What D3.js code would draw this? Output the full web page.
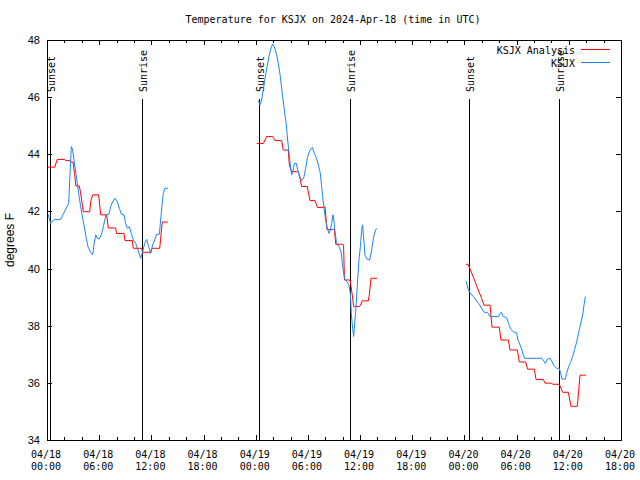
<!DOCTYPE html>
<html><head><meta charset="utf-8">
<script src="https://cdn.jsdelivr.net/npm/d3@7"></script>
<style>body{margin:0;background:#fff}svg{display:block}</style>
</head><body>
<svg id="c" width="640" height="480"></svg>
<script>
// Hours since 2024-04-18 00:00 UTC; null separates gaps
const anaHours = [0.11,0.89,1.18,2.04,2.18,2.64,2.76,2.99,3.16,3.33,3.71,3.85,4.17,4.91,5.02,5.25,5.94,6.17,6.86,7.05,7.9,7.99,8.85,8.97,9.81,9.92,10.89,10.98,11.96,12.07,12.96,13.11,13.26,13.88,
  null,
  24.11,24.88,25.26,25.95,26.22,26.98,27.17,27.75,27.86,28.13,28.9,29.09,29.28,29.93,30.24,30.82,31.09,31.77,31.97,32.19,32.93,33.05,33.2,33.96,34.1,34.2,34.84,35.1,35.26,35.95,36.1,36.26,36.95,37.06,37.25,37.94,
  null,
  48.18,48.41,48.83,49.4,49.98,50.25,50.94,51.17,52.01,52.2,53.05,53.24,54.08,54.31,55.04,55.27,56.04,56.23,57.07,57.26,58.03,58.14,58.91,59.29,59.94,60.25,60.98,61.13,61.29,61.98];
const anaTemps = [43.55,43.55,43.82,43.82,43.78,43.78,43.73,43.73,43.33,42.89,42.89,42.69,41.99,41.99,42.34,42.58,42.58,41.88,41.88,41.42,41.42,41.23,41.23,40.98,40.98,40.71,40.71,40.57,40.57,40.71,40.71,41.18,41.63,41.63,
  null,
  44.38,44.38,44.62,44.62,44.48,44.48,44.15,44.15,43.63,43.39,43.39,43.16,42.87,42.87,42.38,42.38,42.14,42.14,42.17,41.37,41.37,41.37,40.85,40.85,40.83,39.6,39.6,39.08,38.67,38.67,38.76,38.87,38.87,39.08,39.66,39.66,
  null,
  40.15,40.15,39.85,39.4,38.95,38.72,38.72,37.95,37.95,37.5,37.5,37.15,37.15,36.73,36.73,36.48,36.48,36.12,36.12,35.99,35.99,35.95,35.95,35.67,35.67,35.18,35.18,35.72,36.27,36.27];

const obsHours = [0.115,0.42,0.575,0.88,1.57,2.49,2.8,2.95,3.1,3.33,3.49,3.72,3.87,4.1,4.25,4.48,4.71,5.02,5.25,5.4,5.6,5.79,6.02,6.25,6.48,6.78,7.13,7.32,7.55,7.82,8.09,8.32,8.55,8.85,9.04,9.24,9.47,9.7,9.93,10.2,10.46,10.77,11.0,11.23,11.46,11.69,11.92,12.15,12.38,12.61,12.92,13.07,13.22,13.38,13.53,13.91,
  null,
  24.3,24.49,24.68,24.87,25.07,25.3,25.52,25.76,25.95,26.14,26.37,26.6,26.83,27.05,27.29,27.52,27.67,27.83,27.98,28.13,28.28,28.44,28.67,28.82,29.05,29.28,29.51,29.74,29.97,30.24,30.51,30.74,31.0,31.2,31.43,31.58,31.7,31.85,32.04,32.23,32.43,32.58,32.73,32.89,33.0,33.12,33.27,33.42,33.57,33.81,33.96,34.11,34.27,34.5,34.72,34.88,34.99,35.14,35.26,35.33,35.41,35.56,35.72,35.87,36.03,36.18,36.29,36.41,36.56,36.79,37.1,37.33,37.56,37.79,37.94,
  null,
  48.18,48.33,48.45,48.71,49.02,49.33,49.63,49.94,50.25,50.63,50.94,51.9,52.09,52.24,52.47,52.85,53.08,53.31,53.62,54.0,54.16,54.39,54.62,54.77,54.92,56.88,57.15,57.3,57.53,57.84,58.07,58.3,58.61,58.91,59.07,59.22,59.6,59.75,59.98,60.21,60.44,60.67,60.91,61.14,61.37,61.6,61.75,61.9];
const obsTemps = [41.91,41.58,41.65,41.72,41.72,42.28,44.27,44.15,43.8,43.33,42.98,42.46,42.17,41.76,41.53,41.12,40.77,40.56,40.48,40.83,41.18,41.06,41.04,41.18,41.47,41.88,41.91,42.17,42.34,42.46,42.34,42.11,41.91,41.88,41.58,41.41,41.47,41.23,41.0,40.88,40.65,40.36,40.59,40.88,41.02,40.77,40.53,40.83,41.0,41.2,41.2,41.7,42.22,42.63,42.81,42.81,
  null,
  45.88,45.73,45.9,46.25,46.66,47.07,47.42,47.71,47.86,47.77,47.53,47.18,46.72,46.13,45.55,45.03,44.5,44.03,43.63,43.28,43.39,43.68,43.68,43.45,43.22,43.1,43.16,43.51,43.92,44.15,44.24,44.03,43.86,43.63,43.33,42.87,42.52,42.11,41.7,41.41,41.23,41.35,41.58,41.88,41.64,41.29,40.94,40.83,40.77,40.59,40.18,39.83,39.6,39.54,39.43,39.13,38.43,37.91,37.62,37.85,38.2,38.78,39.6,40.3,40.77,41.35,41.53,41.06,40.48,40.33,40.3,40.65,41.12,41.35,41.41,
  null,
  39.57,39.4,39.25,39.13,39.02,38.9,38.78,38.63,38.47,38.47,38.32,38.32,38.43,38.47,38.32,38.28,38.08,37.88,37.79,37.75,37.5,37.33,37.15,36.98,36.86,36.86,36.76,36.68,36.83,36.86,36.74,36.6,36.51,36.51,36.33,36.13,36.13,36.33,36.57,36.72,36.92,37.18,37.44,37.77,38.08,38.38,38.73,39.02];

const eventHours = [0.35,10.89,24.41,34.87,48.47,58.91];
const eventLabels = ["Sunset","Sunrise","Sunset","Sunrise","Sunset","Sunrise"];
const yTicks = [34,36,38,40,42,44,46,48];
const seriesNames = ["KSJX Analysis","KSJX"];
const seriesColors = ["#ff0000","#1a86f0"];
const titleText = "Temperature for KSJX on 2024-Apr-18 (time in UTC)";
const yLabel = "degrees F";

const t0 = Date.UTC(2024,3,18);
const toDate = h => new Date(t0 + h*3600e3);
const L=47, R=621, T=40, B=440;
const x = d3.scaleUtc().domain([toDate(0), toDate(66)]).range([L,R]);
const y = d3.scaleLinear().domain([34,48]).range([B,T]);
const svg = d3.select("#c");
const mono = "'DejaVu Sans Mono', monospace";
const sans = "'Liberation Sans', Arial, sans-serif";

// event lines
eventHours.forEach((h,i)=>{
  const xx = Math.round(x(toDate(h)))+0.5;
  svg.append("line").attr("x1",xx).attr("x2",xx).attr("y1",99).attr("y2",B)
    .attr("stroke","#000").attr("stroke-width",1).attr("shape-rendering","crispEdges");
  svg.append("text").attr("transform",`translate(${xx+4.5},92) rotate(-90)`)
    .attr("font-family",mono).attr("font-size",10).attr("text-anchor","start").text(eventLabels[i]);
});

// data lines
function mk(hours, temps){ return hours.map((h,i)=> h==null? null : {d:toDate(h), v:temps[i]}); }
const line = d3.line().defined(d=>d!=null).x(d=>x(d.d)).y(d=>y(d.v));
svg.append("path").datum(mk(anaHours,anaTemps)).attr("d",line).attr("fill","none").attr("stroke",seriesColors[0]).attr("stroke-width",1);
svg.append("path").datum(mk(obsHours,obsTemps)).attr("d",line).attr("fill","none").attr("stroke",seriesColors[1]).attr("stroke-width",1);

// frame
svg.append("rect").attr("x",L+0.5).attr("y",T+0.5).attr("width",R-L).attr("height",B-T)
  .attr("fill","none").attr("stroke","#000").attr("shape-rendering","crispEdges");

// x ticks
const majors = d3.utcHour.every(6).range(toDate(0), toDate(66.01));
const minors = d3.utcHour.every(2).range(toDate(0), toDate(66.01));
const tg = svg.append("g").attr("stroke","#000").attr("shape-rendering","crispEdges");
minors.forEach(d=>{
  const xx = Math.round(x(d))+0.5;
  const len = (d.getUTCHours()%6===0)?5:3;
  tg.append("line").attr("x1",xx).attr("x2",xx).attr("y1",B).attr("y2",B-len);
  tg.append("line").attr("x1",xx).attr("x2",xx).attr("y1",T).attr("y2",T+len);
});
const fD = d3.utcFormat("%m/%d"), fT = d3.utcFormat("%H:%M");
majors.forEach(d=>{
  const t = svg.append("text").attr("font-family",mono).attr("font-size",10).attr("text-anchor","middle");
  t.append("tspan").attr("x",x(d)-1).attr("y",458).text(fD(d));
  t.append("tspan").attr("x",x(d)-1).attr("y",470).text(fT(d));
});
// y ticks
yTicks.forEach(v=>{
  const yy = Math.round(y(v))+0.5;
  tg.append("line").attr("x1",L).attr("x2",L+5).attr("y1",yy).attr("y2",yy);
  tg.append("line").attr("x1",R).attr("x2",R-5).attr("y1",yy).attr("y2",yy);
  svg.append("text").attr("x",40).attr("y",y(v)+4).attr("text-anchor","end")
    .attr("font-family",sans).attr("font-size",11).text(v);
});

// title
svg.append("text").attr("x",333).attr("y",23).attr("text-anchor","middle")
  .attr("font-family",mono).attr("font-size",10).text(titleText);
// y label
svg.append("text").attr("transform","translate(14,240) rotate(-90)").attr("text-anchor","middle")
  .attr("font-family",sans).attr("font-size",12).text(yLabel);

// legend
seriesNames.forEach((n,i)=>{
  const yy = 50 + i*13;
  svg.append("text").attr("x",575).attr("y",yy+4).attr("text-anchor","end")
    .attr("font-family",mono).attr("font-size",10).text(n);
  svg.append("line").attr("x1",581).attr("x2",610).attr("y1",yy-0.5).attr("y2",yy-0.5)
    .attr("stroke",seriesColors[i]).attr("stroke-width",1);
});
</script>
</body></html>
